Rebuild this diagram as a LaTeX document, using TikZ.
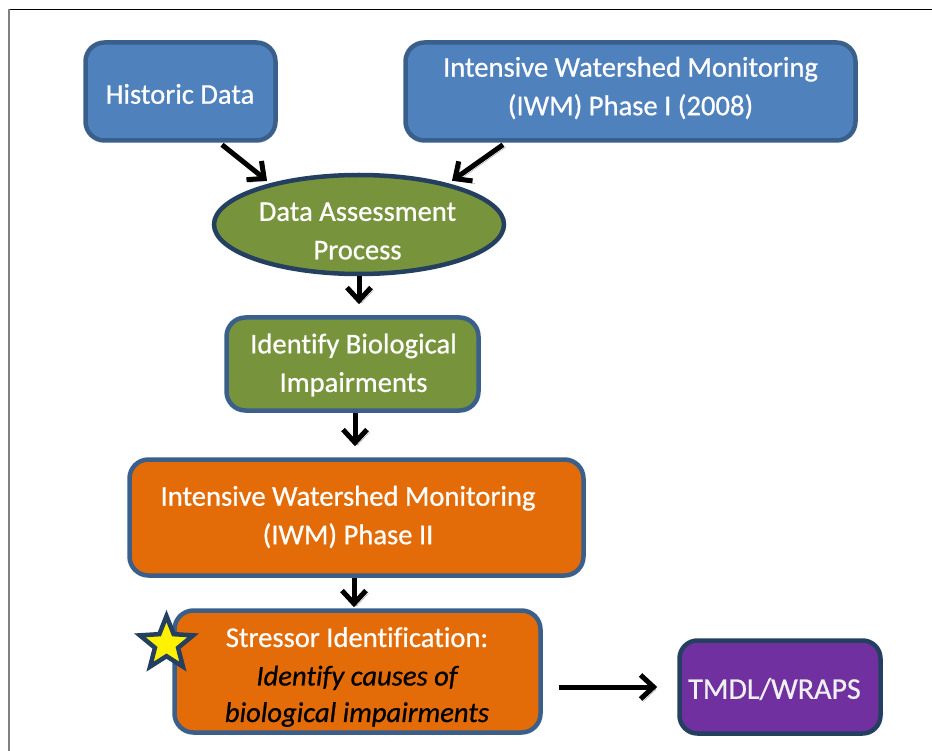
\documentclass[tikz,border=0pt]{standalone}
\usepackage{fontspec}
\setmainfont{Carlito}[Ligatures=NoCommon, FakeBold=0.7, ItalicFeatures={FakeBold=0.7}]
\usetikzlibrary{shapes.geometric,arrows.meta}
\definecolor{boxblue}{HTML}{4F81BD}
\definecolor{edgeblue}{HTML}{3A5F8B}
\definecolor{navy}{HTML}{243F60}
\definecolor{olive}{HTML}{77933C}
\definecolor{orng}{HTML}{E36C09}
\definecolor{purp}{HTML}{7030A0}
\begin{document}
\begin{tikzpicture}[x=1pt,y=-1pt,
  box/.style={rounded corners=19pt, line width=4.5pt, draw=edgeblue, inner sep=0pt},
  lbl/.style={align=center, text=white, inner sep=0pt, font=\fontsize{28.6}{38.5}\selectfont},
  arr/.style={line width=5pt, -{Straight Barb[length=13pt,width=24pt]},
    preaction={draw=black!40, transform canvas={shift={(2.5pt,-2.5pt)}}}},
]
\useasboundingbox (0,0) rectangle (932,751);
% page frame
\draw[black, line width=1pt] (9,9.5) -- (932,9.5);
\draw[black!50, line width=2pt] (9,9) -- (9,751);

% boxes
\node[box, fill=boxblue, minimum width=190, minimum height=98] (hist) at (180.5,91.5) {};
\node[lbl] at (180,94) {Historic Data};

\node[box, fill=boxblue, minimum width=450, minimum height=98] (iwm1) at (630.5,91.5) {};
\node[lbl] at (630.5,88) {Intensive Watershed Monitoring\\(IWM) Phase I (2008)};

\node[ellipse, draw=navy, line width=4.5pt, fill=olive, minimum width=290, minimum height=99, inner sep=0pt] (ell) at (359,224.5) {};
\node[lbl] at (357.5,231) {Data Assessment\\Process};

\node[box, fill=olive, minimum width=252, minimum height=93] (bio) at (352.5,364) {};
\node[lbl] at (353.5,365) {Identify Biological\\Impairments};

\node[box, fill=orng, minimum width=454, minimum height=116] (iwm2) at (356.5,517.5) {};
\node[lbl] at (348,517) {Intensive Watershed Monitoring\\(IWM) Phase II};

\node[box, fill=orng, minimum width=366, minimum height=122] (stress) at (357.5,671.5) {};
\node[lbl] at (357,677) {Stressor Identification:\\{\color{black}\itshape Identify causes of}\\[-2pt]{\color{black}\itshape biological impairments}};

\node[box, draw=navy, fill=purp, rounded corners=18pt, minimum width=201, minimum height=93] (tmdl) at (780,687) {};
\node[lbl, text=white!94!black, font=\fontsize{30}{36}\selectfont] at (774.5,689) {TMDL/WRAPS};

\node[star, star points=5, star point ratio=2.3, minimum size=56pt, inner sep=0pt, fill=yellow, draw=navy, line width=4.5pt] (star) at (166.5,644) {};

% connectors
\draw[arr] ([shift={(41.5,2)}]hist.south) -- ([shift={(-92,8)}]ell.north);
\draw[arr] ([shift={(-127.5,2)}]iwm1.south) -- ([shift={(93,8)}]ell.north);
\draw[arr, shorten >=11pt] (ell.south) -- (ell.south |- bio.north);
\draw[arr, shorten >=11pt] ([xshift=2.5pt]bio.south) -- ([xshift=2.5pt]bio.south |- iwm2.north);
\draw[arr, shorten >=1pt] ([xshift=-2.5pt]iwm2.south) -- ([xshift=-2.5pt]iwm2.south |- stress.north);
\draw[arr] ([shift={(16,15.5)}]stress.east) -- ([xshift=-20pt]tmdl.west);
\end{tikzpicture}
\end{document}
